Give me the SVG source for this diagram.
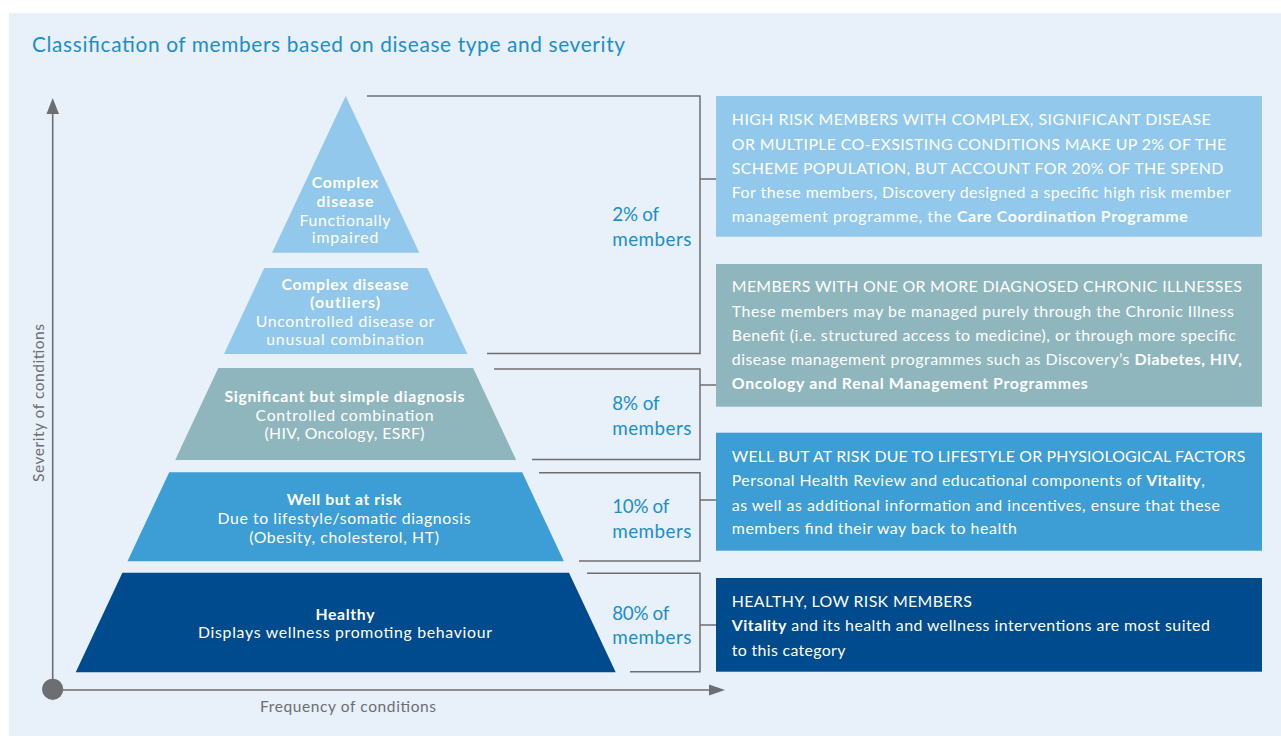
<svg xmlns="http://www.w3.org/2000/svg" width="1281" height="736" viewBox="0 0 1281 736">
  <style>
    text { font-family: Lato, "Open Sans", "Liberation Sans", sans-serif; }
    .title { font-size: 20.8px; fill: #1B8ED0; }
    .pct { font-size: 18.8px; fill: #1B8ED0; }
    .axis-label { font-size: 15.5px; fill: #6D6E71; }
    .tier { font-size: 15.8px; fill: #FFFFFF; text-anchor: middle; }
    .box { font-size: 15.9px; fill: #FFFFFF; }
    .b { font-weight: bold; }
    .link { fill: none; stroke: #6D6E71; stroke-width: 1.5; }
    .axis { stroke: #6D6E71; stroke-width: 1.6; fill: none; }
    .light { fill: #92C8EC; }
    .teal { fill: #8FB6BD; }
    .mid { fill: #3D9DD5; }
    .dark { fill: #004B8D; }
  </style>

  <!-- background panel -->
  <rect x="0" y="0" width="1281" height="736" fill="#FFFFFF"/>
  <rect x="9" y="13" width="1272" height="723" fill="#E8F0F9"/>

  <text class="title" x="32" y="51.5" textLength="593">Classification of members based on disease type and severity</text>

  <!-- axes -->
  <g id="axes">
    <line class="axis" x1="52.7" y1="112" x2="52.7" y2="689"/>
    <polygon points="52.7,98 46.5,114 59,114" fill="#6D6E71"/>
    <line class="axis" x1="52.7" y1="690" x2="711" y2="690"/>
    <polygon points="725,690 709,684.5 709,695.5" fill="#6D6E71"/>
    <circle cx="52.7" cy="689.3" r="10.6" fill="#6D6E71"/>
    <text class="axis-label" transform="translate(44,403) rotate(-90)" text-anchor="middle" textLength="158">Severity of conditions</text>
    <text class="axis-label" x="348" y="711.5" text-anchor="middle" textLength="176">Frequency of conditions</text>
  </g>

  <!-- pyramid tiers -->
  <g id="tier-complex">
    <polygon class="light" points="345.7,96 419.3,252.7 272.1,252.7"/>
    <text class="tier"><tspan class="b" x="345" y="188.3" textLength="66.7">Complex</tspan><tspan class="b" x="345" y="206.7" textLength="57">disease</tspan><tspan x="345" y="225.5" textLength="91">Functionally</tspan><tspan x="345" y="243.3" textLength="66.7">impaired</tspan></text>
  </g>
  <g id="tier-outliers">
    <polygon class="light" points="264.2,268 427.2,268 467.4,354 224,354"/>
    <text class="tier"><tspan class="b" x="345" y="290" textLength="127">Complex disease</tspan><tspan class="b" x="345" y="308.3" textLength="70">(outliers)</tspan><tspan x="345" y="327" textLength="178.7">Uncontrolled disease or</tspan><tspan x="345" y="345" textLength="157.7">unusual combination</tspan></text>
  </g>
  <g id="tier-significant">
    <polygon class="teal" points="218.3,368 473.1,368 516.2,460 175.2,460"/>
    <text class="tier"><tspan class="b" x="344.5" y="401.7" textLength="240">Significant but simple diagnosis</tspan><tspan x="344.5" y="420.7" textLength="178">Controlled combination</tspan><tspan x="344.5" y="439" textLength="160">(HIV, Oncology, ESRF)</tspan></text>
  </g>
  <g id="tier-at-risk">
    <polygon class="mid" points="169.2,472.3 522.2,472.3 563.9,561.3 127.5,561.3"/>
    <text class="tier"><tspan class="b" x="344" y="505" textLength="114.7">Well but at risk</tspan><tspan x="344" y="524" textLength="253">Due to lifestyle/somatic diagnosis</tspan><tspan x="344" y="542.7" textLength="189.7">(Obesity, cholesterol, HT)</tspan></text>
  </g>
  <g id="tier-healthy">
    <polygon class="dark" points="122.4,572.7 569,572.7 615.7,672.3 75.7,672.3"/>
    <text class="tier"><tspan class="b" x="345" y="620" textLength="59">Healthy</tspan><tspan x="345" y="638.3" textLength="294">Displays wellness promoting behaviour</tspan></text>
  </g>

  <!-- bracket connectors -->
  <g id="connectors">
    <path class="link" d="M367,96 H700 V353.5 H487 M700,179 H716"/>
    <path class="link" d="M494,369 H700 V459.5 H532 M700,385 H716"/>
    <path class="link" d="M539,472.7 H700 V561 H579 M700,500 H716"/>
    <path class="link" d="M587,573.3 H700 V671.7 H630 M700,625 H716"/>
  </g>

  <!-- share of members -->
  <g id="share-2">
    <text class="pct"><tspan x="612.3" y="221" textLength="46.7">2% of</tspan><tspan x="612.3" y="245.5" textLength="79">members</tspan></text>
  </g>
  <g id="share-8">
    <text class="pct"><tspan x="612.3" y="410" textLength="47.3">8% of</tspan><tspan x="612.3" y="435" textLength="79">members</tspan></text>
  </g>
  <g id="share-10">
    <text class="pct"><tspan x="612.3" y="513" textLength="57">10% of</tspan><tspan x="612.3" y="537.5" textLength="79">members</tspan></text>
  </g>
  <g id="share-80">
    <text class="pct"><tspan x="612.3" y="620" textLength="57">80% of</tspan><tspan x="612.3" y="643.5" textLength="79">members</tspan></text>
  </g>

  <!-- description boxes -->
  <g id="box-high-risk">
    <rect class="light" x="716" y="96" width="546" height="140.7"/>
    <text class="box" x="731.8" y="125" textLength="479">HIGH RISK MEMBERS WITH COMPLEX, SIGNIFICANT DISEASE</text>
    <text class="box" x="731.8" y="150" textLength="494.5">OR MULTIPLE CO-EXSISTING CONDITIONS MAKE UP 2% OF THE</text>
    <text class="box" x="731.8" y="174" textLength="491.6">SCHEME POPULATION, BUT ACCOUNT FOR 20% OF THE SPEND</text>
    <text class="box" x="731.8" y="198.3" textLength="499">For these members, Discovery designed a specific high risk member</text>
    <text class="box" x="731.8" y="222.3" textLength="456">management programme, the <tspan class="b">Care Coordination Programme</tspan></text>
  </g>
  <g id="box-chronic">
    <rect class="teal" x="716" y="264" width="546" height="142.7"/>
    <text class="box" x="731.8" y="292" textLength="510">MEMBERS WITH ONE OR MORE DIAGNOSED CHRONIC ILLNESSES</text>
    <text class="box" x="731.8" y="316.5" textLength="502">These members may be managed purely through the Chronic Illness</text>
    <text class="box" x="731.8" y="340.5" textLength="504">Benefit (i.e. structured access to medicine), or through more specific</text>
    <text class="box" x="731.8" y="365" textLength="510">disease management programmes such as Discovery’s <tspan class="b">Diabetes, HIV,</tspan></text>
    <text class="box b" x="731.8" y="389" textLength="356">Oncology and Renal Management Programmes</text>
  </g>
  <g id="box-lifestyle">
    <rect class="mid" x="716" y="432.7" width="546" height="118"/>
    <text class="box" x="731.8" y="461.7" textLength="513.5">WELL BUT AT RISK DUE TO LIFESTYLE OR PHYSIOLOGICAL FACTORS</text>
    <text class="box" x="731.8" y="485.7" textLength="473">Personal Health Review and educational components of <tspan class="b">Vitality</tspan>,</text>
    <text class="box" x="731.8" y="510.5" textLength="488">as well as additional information and incentives, ensure that these</text>
    <text class="box" x="731.8" y="534.3" textLength="285">members find their way back to health</text>
  </g>
  <g id="box-healthy">
    <rect class="dark" x="716" y="578" width="546" height="93.7"/>
    <text class="box" x="731.8" y="606.7" textLength="240">HEALTHY, LOW RISK MEMBERS</text>
    <text class="box" x="731.8" y="630.7" textLength="478"><tspan class="b">Vitality</tspan> and its health and wellness interventions are most suited</text>
    <text class="box" x="731.8" y="655.7" textLength="113.6">to this category</text>
  </g>
</svg>
